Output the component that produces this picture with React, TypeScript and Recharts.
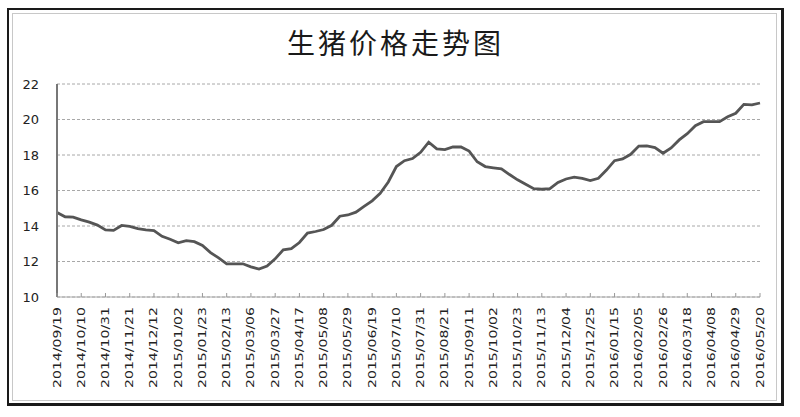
import { LineChart, Line, XAxis, YAxis, CartesianGrid } from "recharts";

const title = "生猪价格走势图";

// weekly dates (every 3rd one shown on the axis)
const dates = [
  "2014/09/19", "2014/09/26", "2014/10/03", "2014/10/10", "2014/10/17", "2014/10/24",
  "2014/10/31", "2014/11/07", "2014/11/14", "2014/11/21", "2014/11/28", "2014/12/05",
  "2014/12/12", "2014/12/19", "2014/12/26", "2015/01/02", "2015/01/09", "2015/01/16",
  "2015/01/23", "2015/01/30", "2015/02/06", "2015/02/13", "2015/02/20", "2015/02/27",
  "2015/03/06", "2015/03/13", "2015/03/20", "2015/03/27", "2015/04/03", "2015/04/10",
  "2015/04/17", "2015/04/24", "2015/05/01", "2015/05/08", "2015/05/15", "2015/05/22",
  "2015/05/29", "2015/06/05", "2015/06/12", "2015/06/19", "2015/06/26", "2015/07/03",
  "2015/07/10", "2015/07/17", "2015/07/24", "2015/07/31", "2015/08/07", "2015/08/14",
  "2015/08/21", "2015/08/28", "2015/09/04", "2015/09/11", "2015/09/18", "2015/09/25",
  "2015/10/02", "2015/10/09", "2015/10/16", "2015/10/23", "2015/10/30", "2015/11/06",
  "2015/11/13", "2015/11/20", "2015/11/27", "2015/12/04", "2015/12/11", "2015/12/18",
  "2015/12/25", "2016/01/01", "2016/01/08", "2016/01/15", "2016/01/22", "2016/01/29",
  "2016/02/05", "2016/02/12", "2016/02/19", "2016/02/26", "2016/03/04", "2016/03/11",
  "2016/03/18", "2016/03/25", "2016/04/01", "2016/04/08", "2016/04/15", "2016/04/22",
  "2016/04/29", "2016/05/06", "2016/05/13", "2016/05/20",
];

const prices = [
  14.76, 14.52, 14.5, 14.35, 14.22, 14.05, 13.78, 13.75, 14.03, 13.98,
  13.85, 13.78, 13.74, 13.42, 13.25, 13.05, 13.18, 13.12, 12.9, 12.5,
  12.2, 11.87, 11.87, 11.87, 11.7, 11.57, 11.75, 12.15, 12.66, 12.72,
  13.07, 13.6, 13.69, 13.8, 14.04, 14.55, 14.62, 14.78, 15.1, 15.42,
  15.84, 16.48, 17.35, 17.68, 17.8, 18.15, 18.72, 18.35, 18.3, 18.45,
  18.45, 18.22, 17.62, 17.35, 17.28, 17.22, 16.9, 16.6, 16.35, 16.1,
  16.07, 16.1, 16.45, 16.65, 16.75, 16.68, 16.56, 16.69, 17.15, 17.68,
  17.78, 18.04, 18.5, 18.51, 18.42, 18.1, 18.4, 18.85, 19.2, 19.65,
  19.88, 19.88, 19.88, 20.15, 20.35, 20.85, 20.82, 20.93,
];

const yTicks = [10, 12, 14, 16, 18, 20, 22];

const data = dates.map((d, i) => ({ date: d, price: prices[i] }));

function DateTick(props: any) {
  const { x, y, payload } = props;
  return (
    <g>
      <line x1={x} x2={x} y1={y - 4} y2={y} stroke="#999" />
      <text
        x={0}
        y={0}
        transform={`translate(${x},${y + 10}) rotate(-90)`}
        textAnchor="end"
        dominantBaseline="central"
        fontSize={11}
        fill="#222"
        fontFamily="DejaVu Sans, sans-serif"
        textLength={81}
        lengthAdjust="spacingAndGlyphs"
      >
        {payload.value}
      </text>
    </g>
  );
}

export default function App() {
  return (
    <div style={{ position: "absolute", left: 0, top: 0, width: 800, height: 417, background: "white" }}>
      {/* frame */}
      <div style={{ position: "absolute", left: 7, top: 8, width: 772, height: 393, borderTop: "2px solid #1a1a1a", borderLeft: "2px solid #1a1a1a", borderRight: "3px solid #1a1a1a", borderBottom: "3px solid #1a1a1a" }} />
      <div style={{ position: "absolute", left: 12, top: 13, width: 763, height: 386, border: "1px solid #c8c8c8" }} />
      <div style={{ position: "absolute", left: 287, top: 28, fontSize: 28, lineHeight: 1, letterSpacing: 3, color: "#1a1a1a", fontFamily: "Noto Sans CJK SC, sans-serif", whiteSpace: "nowrap" }}>
        {title}
      </div>
      <div style={{ position: "absolute", left: 0, top: 0 }}>
        <LineChart width={800} height={417} data={data} margin={{ top: 84, right: 40, left: 17, bottom: 0 }}>
          <CartesianGrid vertical={false} stroke="#a8a8a8" strokeDasharray="3 2" />
          <XAxis
            dataKey="date"
            interval={2}
            height={120}
            tickSize={0}
            tickMargin={0}
            tick={<DateTick />}
            axisLine={{ stroke: "#aaa" }}
            tickLine={false}
          />
          <YAxis
            domain={[10, 22]}
            ticks={yTicks}
            width={40}
            tickSize={0}
            tickMargin={18}
            axisLine={{ stroke: "#777", strokeWidth: 2 }}
            tickLine={false}
            tick={{ fontSize: 13, fill: "#222", fontFamily: "DejaVu Sans, sans-serif" }}
          />
          <Line
            type="linear"
            dataKey="price"
            stroke="#555"
            strokeWidth={2.8}
            dot={false}
            isAnimationActive={false}
          />
        </LineChart>
      </div>
    </div>
  );
}
